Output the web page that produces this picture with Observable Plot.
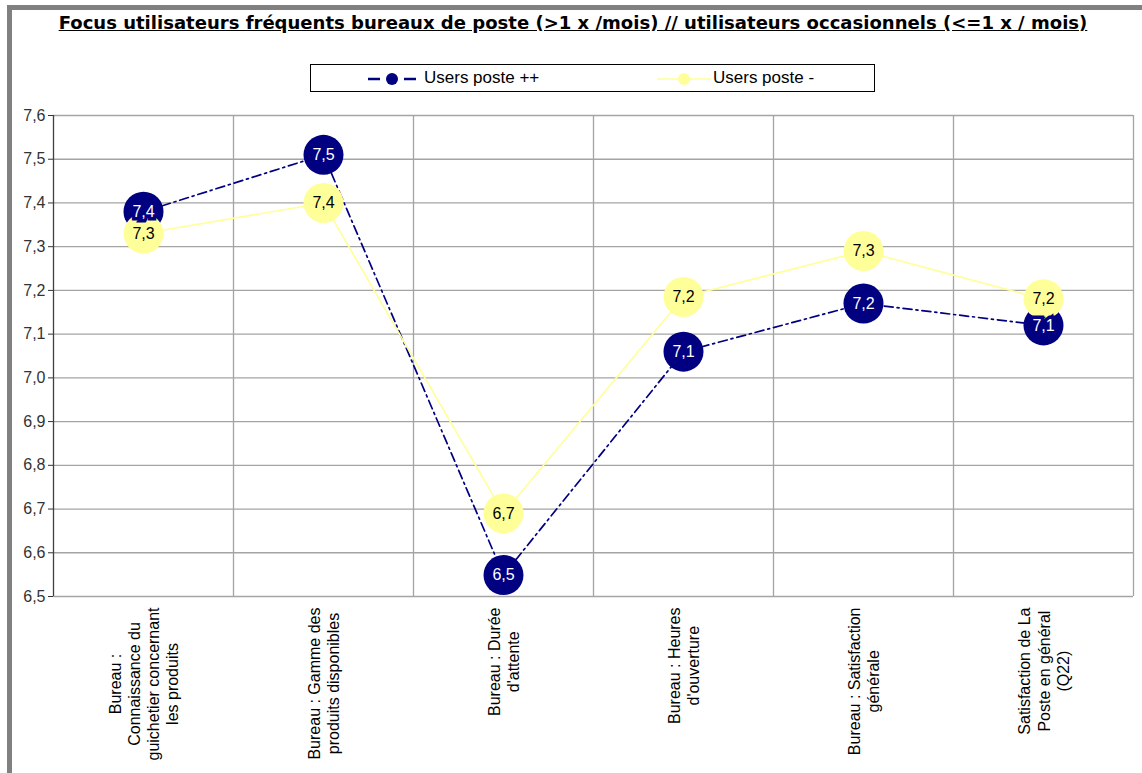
<!DOCTYPE html>
<html><head><meta charset="utf-8">
<script src="https://cdn.jsdelivr.net/npm/d3@7"></script>
<script src="https://cdn.jsdelivr.net/npm/@observablehq/plot@0.6"></script>
<style>
body{margin:0;background:#fff;width:1142px;height:773px;overflow:hidden;position:relative;font-family:"Liberation Sans",Arial,sans-serif}
#frameTop{position:absolute;left:7px;top:5px;width:1135px;height:5px;background:#808080}
#frameLeft{position:absolute;left:7px;top:5px;width:5px;height:768px;background:#808080}
#title{position:absolute;left:58px;top:12px;width:1030px;text-align:center;font-family:"DejaVu Sans",Verdana,sans-serif;font-weight:bold;text-decoration:underline;color:#000;white-space:nowrap}
#legend{position:absolute;left:310px;top:64px;width:563px;height:26px;border:1px solid #000;background:#fff}
#legend span{position:absolute;top:3px;font-size:17px;color:#000}
#legend svg{position:absolute;top:0;left:0}
#chart{position:absolute;left:12px;top:100px}
</style>
</head><body>
<div id="frameTop"></div><div id="frameLeft"></div>
<div id="title">Focus utilisateurs fréquents bureaux de poste (&gt;1 x /mois) // utilisateurs occasionnels (&lt;=1 x / mois)</div>
<div id="legend">
<svg width="563" height="26">
<line x1="57" x2="69" y1="14" y2="14" stroke="#000080" stroke-width="2.5"/>
<line x1="93" x2="105" y1="14" y2="14" stroke="#000080" stroke-width="2.5"/>
<circle cx="81" cy="14" r="6" fill="#000080"/>
<line x1="346" x2="400" y1="14" y2="14" stroke="#ffff99" stroke-width="1.5"/>
<circle cx="373" cy="14" r="6" fill="#ffff99"/>
</svg>
<span id="lg1" style="left:113px">Users poste ++</span>
<span id="lg2" style="left:402px">Users poste -</span>
</div>
<div id="chart"></div>
<script>
const categories = [
  "Bureau :\nConnaissance du\nguichetier concernant\nles produits",
  "Bureau : Gamme des\nproduits disponibles",
  "Bureau : Durée\nd'attente",
  "Bureau : Heures\nd'ouverture",
  "Bureau : Satisfaction\ngénérale",
  "Satisfaction de La\nPoste en général\n(Q22)"
];
const usersPlus  = [7.38, 7.51, 6.549, 7.06, 7.17, 7.12];
const usersMinus = [7.33, 7.40, 6.69, 7.185, 7.29, 7.18];
const yTicks = [6.5, 6.6, 6.7, 6.8, 6.9, 7.0, 7.1, 7.2, 7.3, 7.4, 7.5, 7.6];
const seriesNames = ["Users poste ++", "Users poste -"];

const fmt = v => v.toFixed(1).replace(".", ",");
const rows = categories.map((c, i) => ({i, c, plus: usersPlus[i], minus: usersMinus[i]}));
const boundaries = categories.map((c, i) => i + 0.5);

// fit title width
const cv = document.createElement("canvas").getContext("2d");
const titleEl = document.getElementById("title");
cv.font = "bold 16px 'DejaVu Sans'";
const tw = cv.measureText(titleEl.textContent).width;
titleEl.style.fontSize = (16 * 1030 / tw).toFixed(2) + "px";

const FONT = "'Liberation Sans', Arial, sans-serif";
const LABEL_SIZE = 16;
cv.font = LABEL_SIZE + "px 'Liberation Sans'";
const labelMarks = categories.map((c, i) => {
  const maxW = d3.max(c.split("\n"), l => cv.measureText(l).width);
  return Plot.text([i], {
    x: d => d, text: () => c, frameAnchor: "bottom", rotate: -90,
    textAnchor: "middle", lineAnchor: "middle", lineHeight: 1.2,
    dy: 11 + maxW / 2, fontSize: LABEL_SIZE, fill: "#000"
  });
});

const chart = Plot.plot({
  width: 1130, height: 673,
  marginLeft: 41, marginRight: 9, marginTop: 15, marginBottom: 177,
  x: {domain: [-0.5, categories.length - 0.5], axis: null},
  y: {domain: [6.5, 7.6], ticks: yTicks, tickFormat: fmt, tickSize: 5, tickPadding: 3, label: null},
  style: {fontFamily: FONT, fontSize: "16px", color: "#333", background: "white", overflow: "visible"},
  marks: [
    Plot.ruleY(yTicks, {stroke: "#a4a4a4", strokeWidth: 1.3}),
    Plot.ruleX(boundaries, {stroke: "#a4a4a4", strokeWidth: 1.3}),
    Plot.ruleX([-0.5], {stroke: "#404040", strokeWidth: 1.3}),
    Plot.line(rows, {x: "i", y: "plus", stroke: "#000080", strokeWidth: 1.7, strokeDasharray: "9,4,2,4"}),
    Plot.line(rows, {x: "i", y: "minus", stroke: "#ffff99", strokeWidth: 1.6}),
    Plot.dot(rows, {x: "i", y: "plus", r: 20, fill: "#000080"}),
    Plot.dot(rows, {x: "i", y: "minus", r: 20, fill: "#ffff99"}),
    Plot.text(rows, {x: "i", y: "plus", text: d => fmt(d.plus), fill: "white", stroke: "#000080", strokeWidth: 7, strokeLinejoin: "miter", paintOrder: "stroke", fontSize: 16}),
    Plot.text(rows, {x: "i", y: "minus", text: d => fmt(d.minus), fill: "#000", fontSize: 16}),
    ...labelMarks
  ]
});
document.getElementById("chart").appendChild(chart);
document.getElementById("lg1").textContent = seriesNames[0];
document.getElementById("lg2").textContent = seriesNames[1];
</script>
</body></html>
